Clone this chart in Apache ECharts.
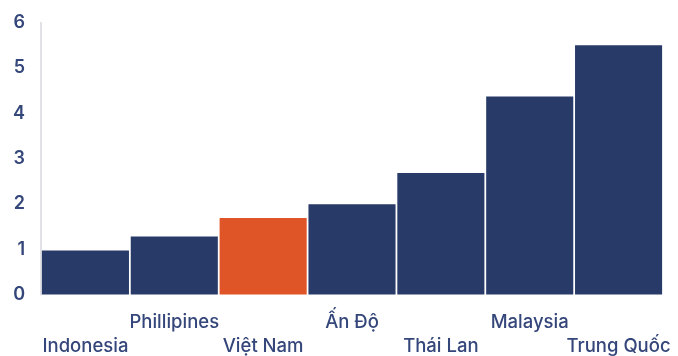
<!DOCTYPE html>
<html>
<head>
<meta charset="utf-8">
<script src="https://cdn.jsdelivr.net/npm/echarts@6/dist/echarts.min.js"></script>
<style>
  html, body { margin: 0; padding: 0; background: #ffffff; }
  #chart { width: 678px; height: 356px; }
</style>
</head>
<body>
<div id="chart"></div>
<script>
// Countries along the x axis and their values
const countries = ['Indonesia', 'Phillipines', 'Việt Nam', 'Ấn Độ', 'Thái Lan', 'Malaysia', 'Trung Quốc'];
const values = [0.97, 1.28, 1.69, 1.99, 2.68, 4.37, 5.5];
const highlighted = 'Việt Nam';
const yTicks = [0, 1, 2, 3, 4, 5, 6];

const NAVY = '#283a67';
const ORANGE = '#e05527';
const TEXT = '#34467a';

const chart = echarts.init(document.getElementById('chart'));
chart.setOption({
  animation: false,
  grid: { left: 41, right: 15, top: 22.7, bottom: 61.5, outerBoundsMode: 'none', containLabel: false },
  xAxis: {
    type: 'category',
    data: countries,
    axisLine: { show: false },
    axisTick: { show: false },
    axisLabel: {
      interval: 0,
      margin: 16,
      color: TEXT,
      fontFamily: 'Inter',
      fontSize: 18.5,
      fontWeight: 500,
      lineHeight: 24,
      // alternate rows so long names do not collide
      formatter: (v, i) => (i % 2 === 0 ? '\n' + v : v)
    }
  },
  yAxis: {
    type: 'value',
    min: yTicks[0],
    max: yTicks[yTicks.length - 1],
    interval: 1,
    splitLine: { show: false },
    axisTick: { show: false },
    axisLine: { show: true, lineStyle: { color: '#e2e2e6', width: 2 } },
    axisLabel: {
      margin: 16,
      color: TEXT,
      fontFamily: 'Inter',
      fontSize: 18,
      fontWeight: 600
    }
  },
  series: [{
    type: 'bar',
    barCategoryGap: '2%',
    data: values.map((v, i) => ({
      value: v,
      itemStyle: { color: countries[i] === highlighted ? ORANGE : NAVY }
    }))
  }]
});
</script>
</body>
</html>
